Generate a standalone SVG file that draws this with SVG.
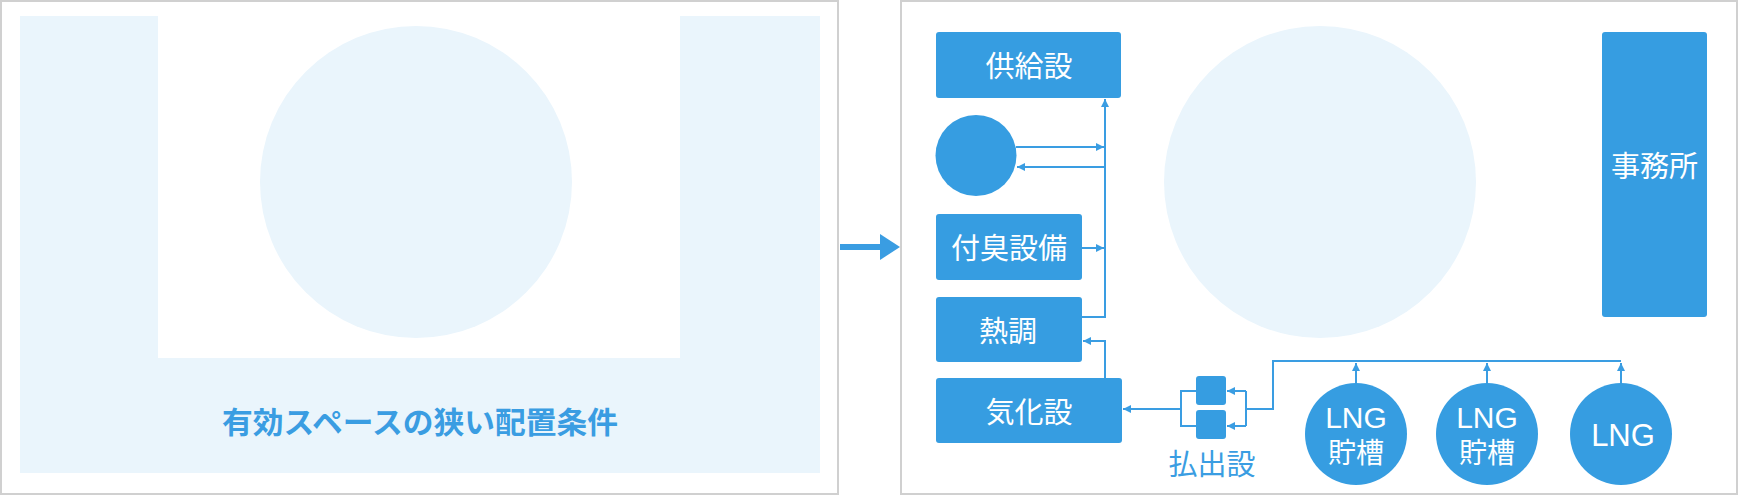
<svg xmlns="http://www.w3.org/2000/svg" width="1740" height="496" viewBox="0 0 1740 496">
<style>
.panel{fill:#fff;stroke:#d0d0d0;stroke-width:2}
.light{fill:#eaf5fc}
.node{fill:#369de1}
.t{font-family:"Noto Sans CJK JP","Liberation Sans",sans-serif;font-size:29px;fill:#fff;text-anchor:middle;dominant-baseline:central}
.lt{font-family:"Liberation Sans","Noto Sans CJK JP",sans-serif;font-size:30px;fill:#fff;text-anchor:middle}
.conn{fill:none;stroke:#3a9de2;stroke-width:2}
</style>
<defs>
<marker id="ah" viewBox="0 0 10 10" refX="10" refY="5" markerWidth="8" markerHeight="8" markerUnits="userSpaceOnUse" orient="auto"><path d="M0,0 L10,5 L0,10 z" fill="#3a9de2"/></marker>
</defs>
<g id="left-panel">
<rect class="panel" x="1" y="1" width="837" height="493"/>
<path class="light" d="M20,16 H158 V358 H680 V16 H820 V473 H20 Z"/>
<circle class="light" cx="416" cy="182" r="156"/>
<text x="420" y="420" font-family="'Noto Sans CJK JP',sans-serif" font-size="30" font-weight="bold" fill="#3a9de2" text-anchor="middle" dominant-baseline="central" textLength="396" lengthAdjust="spacingAndGlyphs">有効スペースの狭い配置条件</text>
</g>
<g id="transition-arrow">
<rect x="840" y="244" width="42" height="6" fill="#3a9de2"/>
<polygon points="880,234 900,247 880,260" fill="#3a9de2"/>
</g>
<g id="right-panel">
<rect class="panel" x="901" y="1" width="836" height="493"/>
<circle class="light" cx="1320" cy="182" r="156"/>
</g>
<g id="supply">
<rect class="node" x="936" y="32" width="185" height="66" rx="3"/>
<text class="t" x="1029" y="64">供給設</text>
</g>
<g id="circle-node">
<circle class="node" cx="976" cy="155.5" r="40.5"/>
</g>
<g id="odorant">
<rect class="node" x="936" y="214" width="146" height="66" rx="3"/>
<text class="t" x="1009" y="246">付臭設備</text>
</g>
<g id="heat">
<rect class="node" x="936" y="297" width="146" height="65" rx="3"/>
<text class="t" x="1008" y="329">熱調</text>
</g>
<g id="vaporizer">
<rect class="node" x="936" y="378" width="186" height="65" rx="3"/>
<text class="t" x="1029" y="410">気化設</text>
</g>
<g id="office">
<rect class="node" x="1602" y="32" width="105" height="285" rx="3"/>
<text class="t" x="1654.5" y="164">事務所</text>
</g>
<g id="pump">
<rect class="node" x="1196" y="376" width="30" height="29" rx="3"/>
<rect class="node" x="1196" y="410" width="30" height="29" rx="3"/>
<text class="t" x="1212" y="462" style="fill:#3a9de2">払出設</text>
</g>
<g id="tank1">
<circle class="node" cx="1356" cy="434" r="51"/>
<text class="lt" x="1356" y="428">LNG</text>
<text class="t" x="1356" y="451" style="font-size:28px">貯槽</text>
</g>
<g id="tank2">
<circle class="node" cx="1487" cy="434" r="51"/>
<text class="lt" x="1487" y="428">LNG</text>
<text class="t" x="1487" y="451" style="font-size:28px">貯槽</text>
</g>
<g id="tank3">
<circle class="node" cx="1621" cy="434" r="51"/>
<text class="lt" x="1623" y="446" style="font-size:31px">LNG</text>
</g>
<g id="connectors">
<path class="conn" d="M1082,317 H1105 V99" marker-end="url(#ah)"/>
<path class="conn" d="M1016,147 H1104" marker-end="url(#ah)"/>
<path class="conn" d="M1105,167 H1017" marker-end="url(#ah)"/>
<path class="conn" d="M1082,248 H1104" marker-end="url(#ah)"/>
<path class="conn" d="M1105,378 V341 H1083" marker-end="url(#ah)"/>
<path class="conn" d="M1181,409 H1123" marker-end="url(#ah)"/>
<path class="conn" d="M1196,391 H1181 V426 H1196"/>
<path class="conn" d="M1246,391 V426"/>
<path class="conn" d="M1246,391 H1227" marker-end="url(#ah)"/>
<path class="conn" d="M1246,426 H1227" marker-end="url(#ah)"/>
<path class="conn" d="M1246,409 H1273 V361 H1621"/>
<path class="conn" d="M1356,383 V363" marker-end="url(#ah)"/>
<path class="conn" d="M1487,383 V363" marker-end="url(#ah)"/>
<path class="conn" d="M1621,383 V363" marker-end="url(#ah)"/>
</g>
</svg>
